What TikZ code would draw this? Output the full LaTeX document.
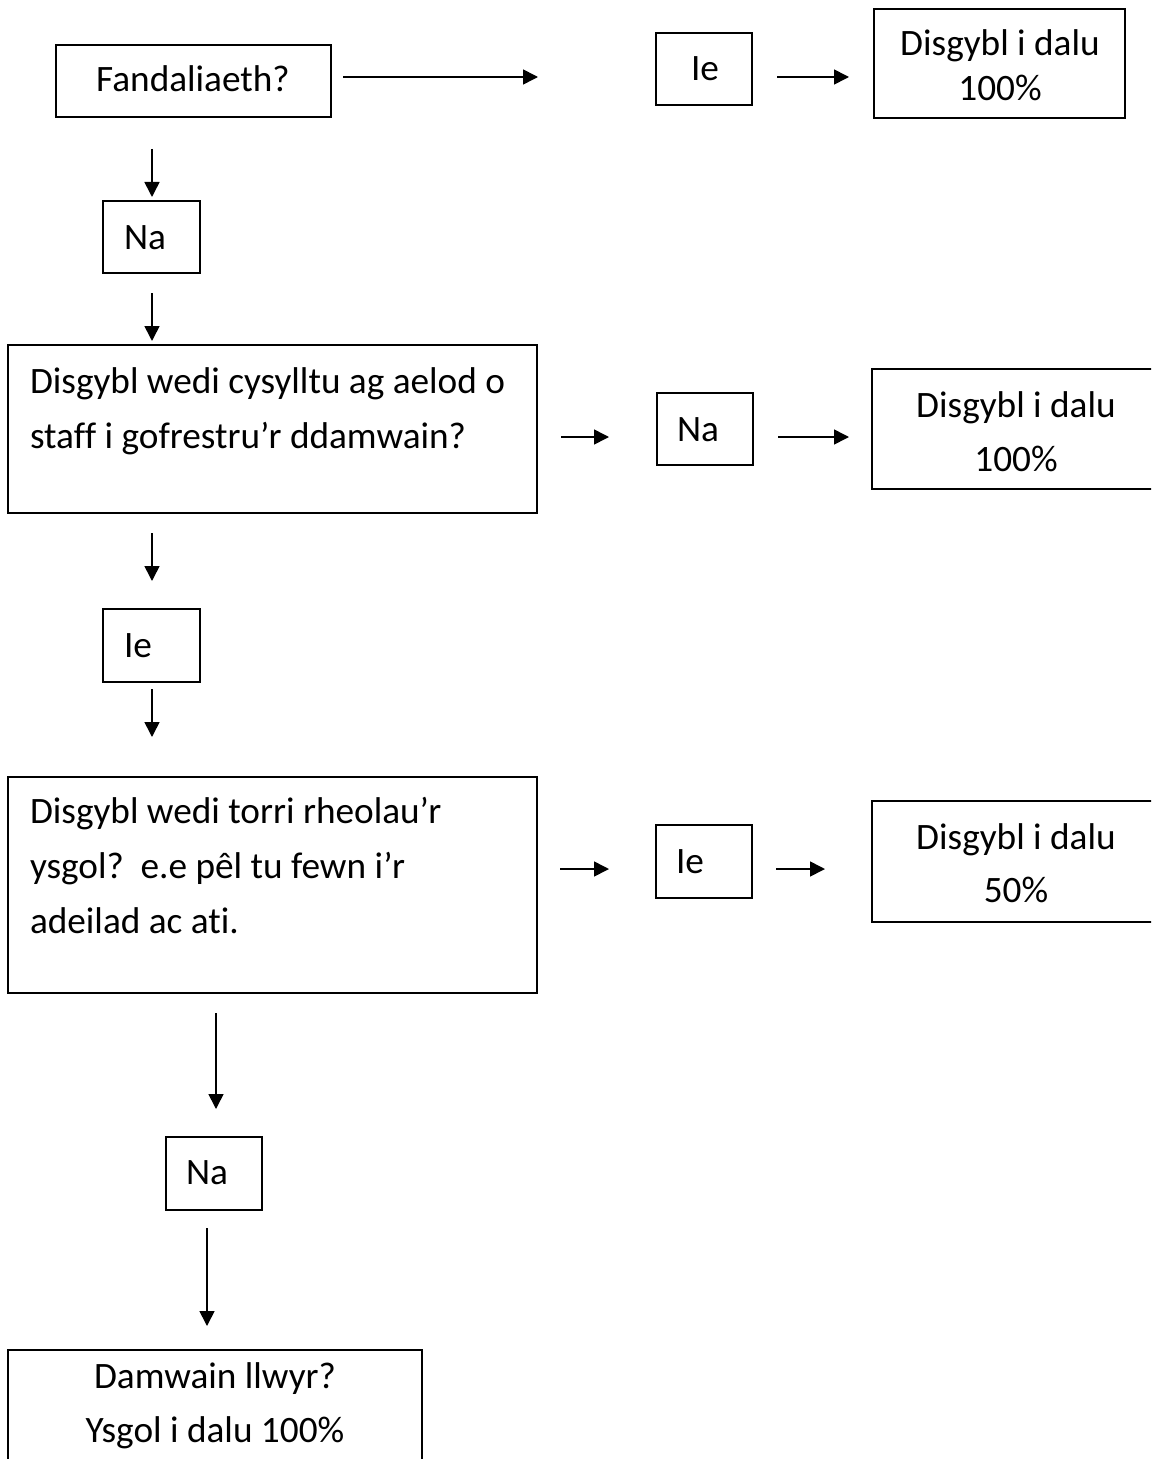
\documentclass[tikz,border=0pt]{standalone}
\usepackage{fontspec}
\setmainfont{Carlito}[Ligatures=NoCommon]
\usetikzlibrary{arrows.meta}
\tikzset{
  box/.style={draw=black, line width=1.8bp, rectangle, inner sep=0pt, outer sep=0pt, anchor=north west},
  txt/.style={inner sep=0pt, outer sep=0pt, anchor=base, font=\fontsize{37.4}{44}\selectfont},
  ltxt/.style={txt, anchor=base west},
  arr/.style={line width=1.6bp, -{Triangle[length=15bp,width=15bp]}}
}
\begin{document}
\begin{tikzpicture}[x=1bp,y=-1bp]
\useasboundingbox (0,0) rectangle (1151,1459);
\clip (0,0) rectangle (1151,1459);
% boxes
\node[box, minimum width=275bp, minimum height=72bp] (fbox) at (56,45) {};
\node[box, minimum width=96bp, minimum height=72bp] (ie1) at (656,33) {};
\node[box, minimum width=251bp, minimum height=109bp] (r1) at (874,9) {};
\node[box, minimum width=97bp, minimum height=72bp] (na1) at (103,201) {};
\node[box, minimum width=529bp, minimum height=168bp] (q2) at (8,345) {};
\node[box, minimum width=96bp, minimum height=72bp] (na2) at (657,393) {};
\node[box, minimum width=290bp, minimum height=120bp] (r2) at (872,369) {};
\node[box, minimum width=97bp, minimum height=73bp] (ie2) at (103,609) {};
\node[box, minimum width=529bp, minimum height=216bp] (q3) at (8,777) {};
\node[box, minimum width=96bp, minimum height=73bp] (ie3) at (656,825) {};
\node[box, minimum width=290bp, minimum height=121bp] (r3) at (872,801) {};
\node[box, minimum width=96bp, minimum height=73bp] (na3) at (166,1137) {};
\node[box, minimum width=414bp, minimum height=130bp] (q4) at (8,1350) {};
% texts
\node[txt] (t-f) at (193,92) {Fandaliaeth?};
\node[txt] (t-ie1) at (705,81) {Ie};
\node[txt] (t-r1a) at (1000,56) {Disgybl i dalu};
\node[txt] (t-r1b) at (1000,101) {100\%};
\node[txt] (t-na1) at (145,249) {Na};
\node[ltxt] (t-q2a) at (30,393) {Disgybl wedi cysylltu ag aelod o};
\node[ltxt] (t-q2b) at (30,448) {staff i gofrestru’r ddamwain?};
\node[txt] (t-na2) at (698,441) {Na};
\node[txt] (t-r2a) at (1016,417) {Disgybl i dalu};
\node[txt] (t-r2b) at (1016,471) {100\%};
\node[txt] (t-ie2) at (138,657) {Ie};
\node[ltxt] (t-q3a) at (30,823) {Disgybl wedi torri rheolau’r};
\node[ltxt] (t-q3b) at (30,878) {ysgol?\ \ e.e pêl tu fewn i’r};
\node[ltxt] (t-q3c) at (30,933) {adeilad ac ati.};
\node[txt] (t-ie3) at (690,873) {Ie};
\node[txt] (t-r3a) at (1016,849) {Disgybl i dalu};
\node[txt] (t-r3b) at (1016,902) {50\%};
\node[txt] (t-na3) at (207,1184) {Na};
\node[txt] (t-q4a) at (215,1388) {Damwain llwyr?};
\node[txt] (t-q4b) at (215,1442) {Ysgol i dalu 100\%};
% arrow end points
\coordinate (a1s) at (343,77);   \coordinate (a1e) at (538,77);
\coordinate (a2s) at (777,77);   \coordinate (a2e) at (849,77);
\coordinate (a3s) at (152,149);  \coordinate (a3e) at (152,197);
\coordinate (a4s) at (152,293);  \coordinate (a4e) at (152,341);
\coordinate (a5s) at (561,437);  \coordinate (a5e) at (609,437);
\coordinate (a6s) at (778,437);  \coordinate (a6e) at (849,437);
\coordinate (a7s) at (152,533);  \coordinate (a7e) at (152,581);
\coordinate (a8s) at (152,689);  \coordinate (a8e) at (152,737);
\coordinate (a9s) at (560,869);  \coordinate (a9e) at (609,869);
\coordinate (a10s) at (776,869); \coordinate (a10e) at (825,869);
\coordinate (a11s) at (216,1013); \coordinate (a11e) at (216,1109);
\coordinate (a12s) at (207,1228); \coordinate (a12e) at (207,1326);
\foreach \i in {1,...,12} {\draw[arr] (a\i s) -- (a\i e);}
\end{tikzpicture}
\end{document}
